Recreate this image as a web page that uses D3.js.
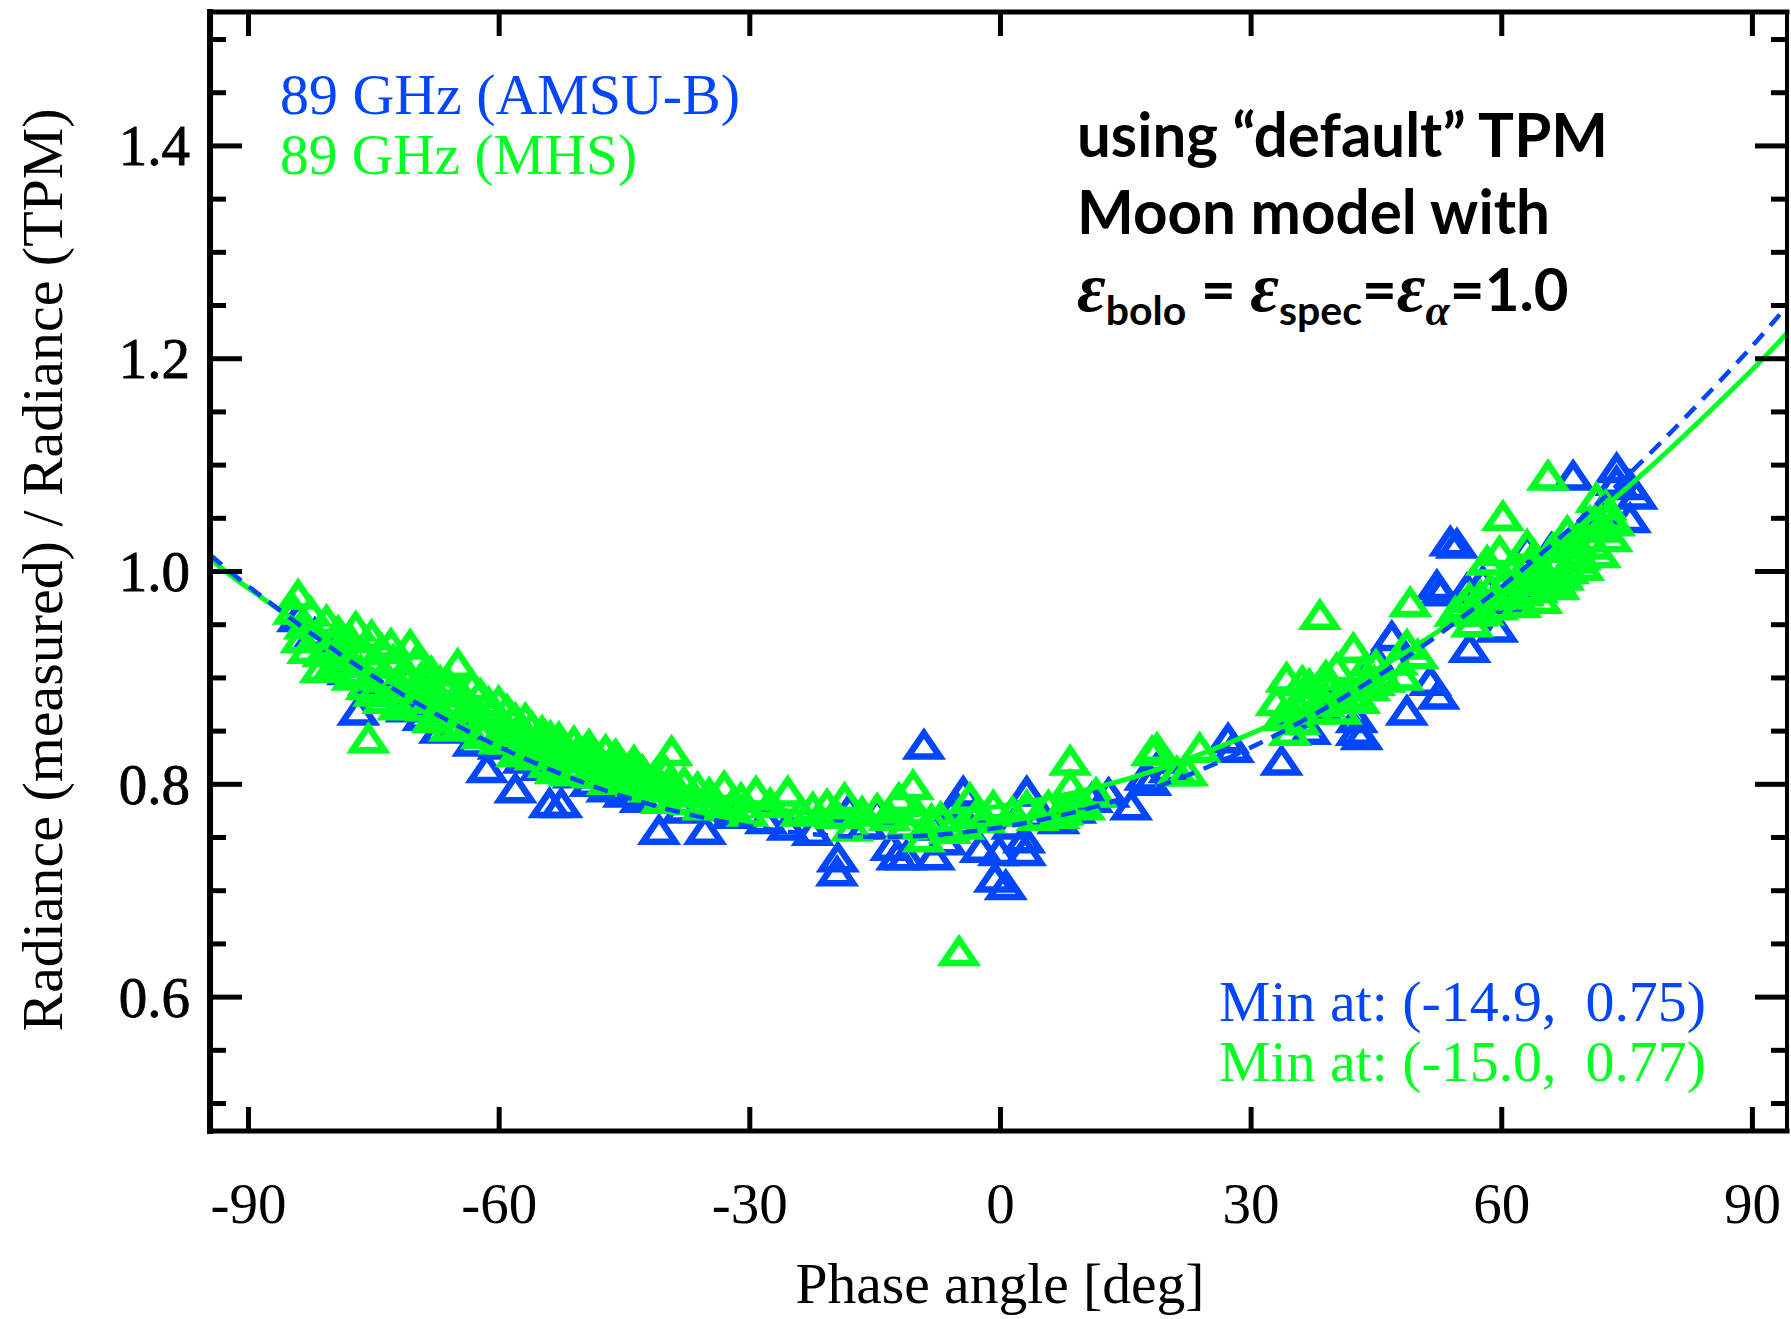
<!DOCTYPE html>
<html>
<head>
<meta charset="utf-8">
<script src="https://cdn.jsdelivr.net/npm/d3@7"></script>
<style>
  html, body { margin: 0; padding: 0; background: #fff; }
  svg { display: block; }
  text { font-family: "Liberation Serif", "Times New Roman", serif; white-space: pre; }
</style>
</head>
<body>
<svg id="chart"></svg>
<script>
// ---- data ----
const xTicks = [-90, -60, -30, 0, 30, 60, 90];
const yMajorTicks = [0.6, 0.8, 1.0, 1.2, 1.4];
const yMinorTicks = [0.5, 0.55, 0.65, 0.7, 0.75, 0.85, 0.9, 0.95, 1.05, 1.1, 1.15, 1.25, 1.3, 1.35, 1.45, 1.5];

// 89 GHz (AMSU-B): [phase angle, ratio]
const amsuB = [
  [-84.0, 0.955], [-82.0, 0.940], [-80.0, 0.925], [-78.0, 0.905], [-76.8, 0.867], [-75.5, 0.895],
  [-73.0, 0.885], [-71.0, 0.870], [-69.0, 0.862], [-67.0, 0.850], [-65.0, 0.855], [-63.0, 0.838],
  [-61.4, 0.813], [-60.0, 0.835], [-58.0, 0.794], [-57.0, 0.822], [-55.0, 0.815], [-53.9, 0.780],
  [-52.5, 0.780], [-51.0, 0.808], [-49.0, 0.800], [-47.0, 0.795], [-45.0, 0.790], [-43.0, 0.785],
  [-40.8, 0.755], [-38.0, 0.775], [-35.3, 0.755], [-32.0, 0.770], [-28.0, 0.765], [-25.4, 0.759],
  [-22.4, 0.754], [-19.4, 0.729], [-19.5, 0.716], [-18.0, 0.775], [-16.0, 0.760], [-14.7, 0.773],
  [-13.0, 0.740], [-12.3, 0.731], [-11.2, 0.731], [-9.1, 0.835], [-7.9, 0.731], [-7.9, 0.759],
  [-6.5, 0.745], [-5.3, 0.778], [-4.4, 0.791], [-2.8, 0.773], [-2.3, 0.738], [-0.6, 0.710],
  [0.7, 0.703], [-0.1, 0.735], [1.5, 0.760], [2.9, 0.747], [3.0, 0.735], [3.2, 0.791],
  [5.0, 0.770], [7.0, 0.765], [9.0, 0.775], [11.0, 0.785], [13.0, 0.790], [15.7, 0.778],
  [17.4, 0.806], [18.0, 0.801], [19.5, 0.822], [20.3, 0.813], [27.3, 0.841], [27.9, 0.832],
  [33.7, 0.820], [35.0, 0.865], [37.1, 0.849], [38.5, 0.870], [40.0, 0.880], [42.7, 0.860],
  [42.7, 0.848], [43.3, 0.844], [45.1, 0.914], [46.9, 0.937], [48.7, 0.867], [51.5, 0.895],
  [52.3, 0.985], [52.5, 0.882], [52.7, 0.979], [53.9, 1.026], [54.7, 1.024], [55.9, 0.982],
  [56.2, 0.926], [57.8, 0.989], [59.5, 0.945], [60.5, 0.970], [61.9, 0.982], [63.1, 1.020],
  [64.5, 1.000], [66.0, 1.020], [68.6, 1.088], [70.0, 1.040], [72.0, 1.055], [73.8, 1.095],
  [73.8, 1.083], [75.4, 1.079], [76.2, 1.070], [75.4, 1.048]
];

// 89 GHz (MHS): [phase angle, ratio]
const mhs = [
  [-84.5, 0.962], [-84.0, 0.976], [-83.6, 0.935], [-83.2, 0.948], [-82.8, 0.925], [-82.5, 0.960],
  [-81.8, 0.938], [-81.3, 0.907], [-81.0, 0.922], [-80.6, 0.952], [-80.0, 0.930], [-79.6, 0.912],
  [-79.2, 0.942], [-78.9, 0.928], [-78.5, 0.918], [-77.8, 0.935], [-77.5, 0.900], [-77.1, 0.946],
  [-76.5, 0.905], [-76.2, 0.924], [-75.8, 0.891], [-75.6, 0.841], [-75.2, 0.938], [-74.9, 0.885],
  [-74.6, 0.912], [-74.0, 0.925], [-73.8, 0.878], [-73.3, 0.898], [-72.9, 0.930], [-72.6, 0.915],
  [-72.0, 0.872], [-71.8, 0.888], [-71.2, 0.906], [-70.9, 0.895], [-70.6, 0.929], [-70.0, 0.878],
  [-69.8, 0.915], [-69.3, 0.898], [-68.9, 0.888], [-68.7, 0.871], [-68.1, 0.904], [-67.9, 0.860],
  [-67.4, 0.884], [-67.0, 0.895], [-66.8, 0.865], [-66.0, 0.893], [-65.8, 0.852], [-65.3, 0.876],
  [-64.9, 0.911], [-64.6, 0.885], [-64.3, 0.857], [-63.6, 0.872], [-63.2, 0.890], [-62.8, 0.862],
  [-62.2, 0.883], [-62.0, 0.845], [-61.5, 0.848], [-61.2, 0.875], [-60.9, 0.866], [-60.0, 0.876],
  [-59.9, 0.840], [-59.4, 0.852], [-59.0, 0.868], [-58.7, 0.840], [-58.0, 0.860], [-57.8, 0.828],
  [-57.3, 0.847], [-56.8, 0.860], [-56.6, 0.834], [-56.0, 0.852], [-55.6, 0.825], [-55.2, 0.838],
  [-54.8, 0.848], [-54.5, 0.826], [-54.0, 0.818], [-53.8, 0.843], [-53.2, 0.812], [-52.8, 0.842],
  [-52.5, 0.832], [-51.8, 0.822], [-51.5, 0.810], [-51.0, 0.838], [-50.6, 0.828], [-50.3, 0.815],
  [-49.5, 0.828], [-49.2, 0.835], [-48.8, 0.808], [-48.3, 0.815], [-48.0, 0.822], [-47.2, 0.830],
  [-46.9, 0.802], [-46.5, 0.810], [-46.0, 0.826], [-45.7, 0.820], [-45.0, 0.803], [-44.6, 0.808],
  [-44.2, 0.815], [-43.8, 0.820], [-43.5, 0.800], [-42.8, 0.811], [-42.4, 0.803], [-42.0, 0.795],
  [-41.3, 0.806], [-41.0, 0.795], [-40.5, 0.784], [-40.0, 0.810], [-39.8, 0.798], [-39.3, 0.829],
  [-38.6, 0.790], [-37.8, 0.800], [-37.0, 0.783], [-36.2, 0.795], [-35.5, 0.778], [-34.8, 0.790],
  [-34.0, 0.782], [-33.0, 0.796], [-32.2, 0.777], [-31.0, 0.785], [-30.2, 0.772], [-29.2, 0.791],
  [-27.5, 0.780], [-25.4, 0.791], [-23.8, 0.772], [-22.4, 0.776], [-20.7, 0.779], [-19.6, 0.770],
  [-18.6, 0.785], [-17.7, 0.758], [-16.5, 0.772], [-14.7, 0.775], [-13.2, 0.768], [-12.1, 0.785],
  [-11.2, 0.760], [-10.4, 0.797], [-10.1, 0.773], [-9.1, 0.748], [-8.2, 0.765], [-7.1, 0.767],
  [-6.0, 0.756], [-4.9, 0.641], [-4.4, 0.760], [-3.6, 0.785], [-2.8, 0.770], [-1.9, 0.766],
  [-0.8, 0.778], [1.5, 0.772], [3.2, 0.778], [4.5, 0.768], [5.8, 0.778], [7.0, 0.770],
  [7.5, 0.773], [8.4, 0.797], [8.4, 0.820], [9.5, 0.782], [10.1, 0.778], [11.5, 0.790],
  [18.2, 0.829], [18.8, 0.832], [21.2, 0.810], [22.4, 0.810], [23.9, 0.832], [33.1, 0.876],
  [33.8, 0.862], [34.3, 0.898], [34.7, 0.848], [35.5, 0.873], [35.8, 0.858], [36.2, 0.895],
  [36.8, 0.880], [37.0, 0.892], [37.5, 0.868], [38.3, 0.957], [38.8, 0.875], [39.0, 0.900],
  [39.5, 0.888], [40.3, 0.907], [40.8, 0.868], [41.0, 0.880], [41.9, 0.882], [42.3, 0.926],
  [42.7, 0.895], [43.0, 0.878], [43.5, 0.905], [44.2, 0.890], [44.8, 0.895], [45.0, 0.910],
  [46.0, 0.898], [47.5, 0.914], [48.2, 0.900], [48.7, 0.929], [49.1, 0.969], [50.0, 0.920],
  [54.5, 0.960], [55.4, 0.966], [56.2, 0.973], [56.5, 0.950], [57.0, 0.960], [57.5, 0.975],
  [57.8, 0.961], [58.3, 1.008], [58.7, 0.982], [59.5, 0.966], [59.8, 1.017], [60.2, 1.050],
  [60.6, 0.990], [61.0, 0.976], [61.5, 1.002], [61.8, 0.990], [62.3, 0.968], [62.6, 0.979],
  [63.1, 1.023], [63.5, 1.008], [63.8, 0.995], [64.3, 0.982], [64.8, 0.972], [65.0, 1.000],
  [65.6, 1.088], [65.8, 0.989], [66.2, 1.020], [66.5, 1.005], [66.9, 0.985], [67.4, 0.994],
  [67.9, 1.036], [68.0, 1.000], [68.5, 1.010], [69.0, 1.025], [69.4, 1.013], [69.8, 1.003],
  [70.2, 1.030], [70.6, 1.045], [71.0, 1.023], [71.4, 1.067], [71.8, 1.015], [72.1, 1.039],
  [72.5, 1.060], [72.8, 1.050], [73.2, 1.030], [73.5, 1.045]
];

// fitted curves
const amsuFitPhase = [-94.5, -90, -75, -60, -45, -30, -15, 0, 15, 30, 45, 60, 75, 90, 94.5];
const amsuFitRatio = [1.015, 0.986, 0.901, 0.835, 0.788, 0.760, 0.750, 0.759, 0.787, 0.834, 0.900, 0.985, 1.089, 1.211, 1.252];
const mhsFitPhase = [-94.5, -90, -75, -60, -45, -30, -15, 0, 15, 30, 45, 60, 75, 90, 94.5];
const mhsFitRatio = [1.011, 0.984, 0.907, 0.847, 0.804, 0.779, 0.770, 0.779, 0.804, 0.847, 0.907, 0.984, 1.078, 1.189, 1.226];

const amsuColor = "#0046ff";
const mhsColor = "#00ff22";

// ---- chart ----
const width = 1791, height = 1319;
const plot = { left: 210, right: 1787, top: 12, bottom: 1131 };

const svg = d3.select("#chart")
    .attr("width", width)
    .attr("height", height)
    .style("background", "#fff");

const x = d3.scaleLinear().domain([-94.55, 94.2]).range([plot.left, plot.right]);
const y = d3.scaleLinear().domain([0.4737, 1.5254]).range([plot.bottom, plot.top]);

svg.append("defs").append("clipPath").attr("id", "clip")
    .append("rect")
    .attr("x", plot.left).attr("y", plot.top)
    .attr("width", plot.right - plot.left).attr("height", plot.bottom - plot.top);

// triangles (hollow)
const tri = "M0,-13.5L16,10L-16,10Z";
function drawPoints(data, color) {
    svg.append("g")
        .selectAll("path")
        .data(data)
        .join("path")
        .attr("d", tri)
        .attr("transform", d => "translate(" + x(d[0]) + "," + y(d[1]) + ")")
        .attr("fill", "none")
        .attr("stroke", color)
        .attr("stroke-width", 6.5)
        .attr("stroke-linejoin", "miter");
}
drawPoints(amsuB, amsuColor);
drawPoints(mhs, mhsColor);

// fit lines
const line = d3.line()
    .x(d => x(d[0]))
    .y(d => y(d[1]))
    .curve(d3.curveCatmullRom);

svg.append("path")
    .datum(d3.zip(mhsFitPhase, mhsFitRatio))
    .attr("clip-path", "url(#clip)")
    .attr("d", line)
    .attr("fill", "none")
    .attr("stroke", mhsColor)
    .attr("stroke-width", 5);

svg.append("path")
    .datum(d3.zip(amsuFitPhase, amsuFitRatio))
    .attr("clip-path", "url(#clip)")
    .attr("d", line)
    .attr("fill", "none")
    .attr("stroke", amsuColor)
    .attr("stroke-width", 4.5)
    .attr("stroke-dasharray", "15,10");

// axes: ticks point inward, mirrored on top and right
const axisFont = "57px";
const bottomAxis = svg.append("g")
    .attr("transform", "translate(0," + plot.bottom + ")")
    .call(d3.axisBottom(x).tickValues(xTicks).tickFormat(d => String(d))
        .tickSizeInner(-24).tickSizeOuter(0).tickPadding(0));
bottomAxis.selectAll("text")
    .attr("y", 92).attr("dy", null)
    .style("font-size", axisFont)
    .attr("fill", "#000");

svg.append("g")
    .attr("transform", "translate(0," + plot.top + ")")
    .call(d3.axisTop(x).tickValues(xTicks).tickFormat("").tickSizeInner(-24).tickSizeOuter(0));

const leftAxis = svg.append("g")
    .attr("transform", "translate(" + plot.left + ",0)")
    .call(d3.axisLeft(y).tickValues(yMajorTicks).tickFormat(d3.format(".1f"))
        .tickSizeInner(-32).tickSizeOuter(0).tickPadding(20));
leftAxis.selectAll("text")
    .attr("dy", "0.34em")
    .style("font-size", axisFont)
    .attr("fill", "#000")
    .attr("stroke", "#000")
    .attr("stroke-width", 0.8);

svg.append("g")
    .attr("transform", "translate(" + plot.left + ",0)")
    .call(d3.axisLeft(y).tickValues(yMinorTicks).tickFormat("").tickSizeInner(-16).tickSizeOuter(0));

svg.append("g")
    .attr("transform", "translate(" + plot.right + ",0)")
    .call(d3.axisRight(y).tickValues(yMajorTicks).tickFormat("").tickSizeInner(-32).tickSizeOuter(0));
svg.append("g")
    .attr("transform", "translate(" + plot.right + ",0)")
    .call(d3.axisRight(y).tickValues(yMinorTicks).tickFormat("").tickSizeInner(-16).tickSizeOuter(0));

svg.selectAll(".tick line").attr("stroke", "#000").attr("stroke-width", 5);
svg.selectAll(".domain").remove();

// frame
const frame = svg.append("g").attr("stroke", "#000").attr("stroke-linecap", "square");
frame.append("line").attr("x1", plot.left).attr("x2", plot.right).attr("y1", plot.top).attr("y2", plot.top).attr("stroke-width", 5);
frame.append("line").attr("x1", plot.left).attr("x2", plot.right).attr("y1", plot.bottom).attr("y2", plot.bottom).attr("stroke-width", 5);
frame.append("line").attr("x1", plot.left).attr("x2", plot.left).attr("y1", plot.top).attr("y2", plot.bottom).attr("stroke-width", 6);
frame.append("line").attr("x1", plot.right).attr("x2", plot.right).attr("y1", plot.top).attr("y2", plot.bottom).attr("stroke-width", 4);

// axis titles
svg.append("text")
    .attr("x", 1000).attr("y", 1303)
    .attr("text-anchor", "middle")
    .attr("textLength", 409).attr("lengthAdjust", "spacingAndGlyphs")
    .style("font-size", "57px")
    .text("Phase angle [deg]");

svg.append("text")
    .attr("transform", "translate(62,570) rotate(-90)")
    .attr("text-anchor", "middle")
    .attr("textLength", 923).attr("lengthAdjust", "spacingAndGlyphs")
    .style("font-size", "57px")
    .text("Radiance (measured) / Radiance (TPM)");

// legend and minimum labels
function label(tx, ty, len, color, str) {
    svg.append("text").attr("x", tx).attr("y", ty).attr("fill", color)
        .attr("textLength", len).attr("lengthAdjust", "spacingAndGlyphs")
        .style("font-size", "57px").text(str);
}
label(280, 114, 460, amsuColor, "89 GHz (AMSU-B)");
label(280, 174, 357, mhsColor, "89 GHz (MHS)");
label(1219, 1021, 487, amsuColor, "Min at: (-14.9,  0.75)");
label(1219, 1081, 487, mhsColor, "Min at: (-15.0,  0.77)");

// model note
const sans = "Lato, 'Open Sans', sans-serif";
const note = svg.append("g").attr("fill", "#000")
    .style("font-family", sans).style("font-weight", 700).style("font-size", "61px");
note.append("text").attr("x", 1077).attr("y", 157).style("font-family", sans)
    .attr("textLength", 531).attr("lengthAdjust", "spacingAndGlyphs")
    .text("using \u201cdefault\u201d TPM");
note.append("text").attr("x", 1077).attr("y", 234).style("font-family", sans)
    .attr("textLength", 473).attr("lengthAdjust", "spacingAndGlyphs")
    .text("Moon model with");

const l3 = note.append("text").attr("x", 1077).attr("y", 311)
    .style("font-family", sans).style("font-size", "60px");
const epsStyle = sel => sel.style("font-family", "'Liberation Serif', serif").style("font-style", "italic").style("font-size", "70px");
l3.append("tspan").call(epsStyle).text("\u03b5");
l3.append("tspan").attr("dy", 14).style("font-size", "41px").text("bolo");
l3.append("tspan").attr("dy", -14).text(" = ");
l3.append("tspan").call(epsStyle).text("\u03b5");
l3.append("tspan").attr("dy", 14).style("font-size", "41px").text("spec");
l3.append("tspan").attr("dy", -14).text("=");
l3.append("tspan").call(epsStyle).text("\u03b5");
l3.append("tspan").attr("dy", 14).call(epsStyle).style("font-size", "44px").text("\u03b1");
l3.append("tspan").attr("dy", -14).text("=1.0");
</script>
</body>
</html>
